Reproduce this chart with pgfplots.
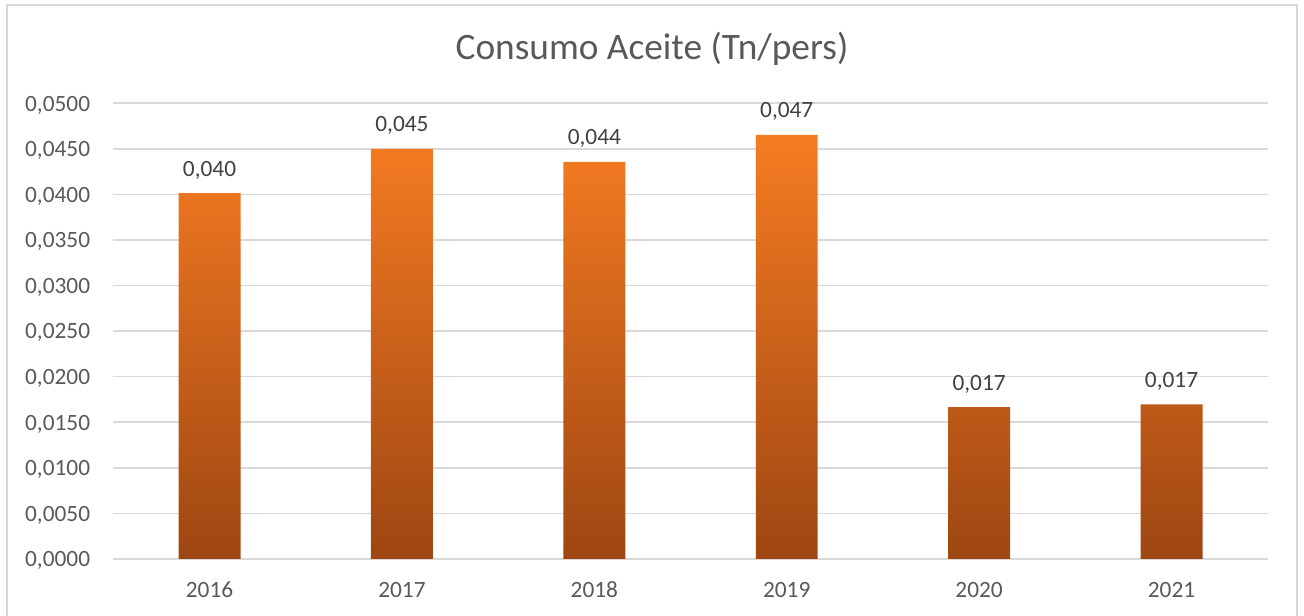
\documentclass[border=0pt]{standalone}
\usepackage{pgfplots}
\pgfplotsset{compat=1.18}
\usepackage{fontspec}
\setmainfont{Carlito}
\definecolor{gridc}{HTML}{D9D9D9}
\definecolor{tickc}{HTML}{595959}
\definecolor{labc}{HTML}{404040}
\definecolor{barTop}{HTML}{F67C22}
\definecolor{barBot}{HTML}{9E4612}
\begin{document}
\begin{tikzpicture}
\useasboundingbox (0,0) rectangle (978pt,462pt);
\draw[gridc, line width=1.2pt] (5.25pt,-2pt) -- (5.25pt,458.25pt) -- (972.75pt,458.25pt) -- (972.75pt,-2pt);
\node[anchor=base, inner sep=0pt, font=\fontsize{28}{32}\selectfont, text=tickc] at (489pt,417pt) {Consumo Aceite (Tn/pers)};
\begin{axis}[
  at={(85pt,42.75pt)}, anchor=south west,
  scale only axis, width=865.8pt, height=341.8pt,
  xmin=-0.5, xmax=5.5, ymin=0, ymax=0.05,
  xtick={0,1,2,3,4,5},
  xticklabels={2016,2017,2018,2019,2020,2021},
  ytick={0,0.005,0.01,0.015,0.02,0.025,0.03,0.035,0.04,0.045,0.05},
  scaled y ticks=false,
  yticklabel={\pgfmathprintnumber[fixed,fixed zerofill,precision=4,use comma]{\tick}},
  /pgf/number format/assume math mode=true,
  ymajorgrids, grid style={gridc, line width=1.2pt},
  axis line style={draw=none},
  major tick length=0pt,
  tick label style={font=\fontsize{17.5}{20}\selectfont, text=tickc, inner sep=0pt},
  yticklabel style={anchor=base east, xshift=-17.25pt, yshift=-5.9pt},
  xticklabel style={anchor=base, yshift=-29.25pt},
  ybar, bar width=0.322,
  nodes near coords,
  nodes near coords style={font=\fontsize{17.5}{20}\selectfont, text=labc, inner sep=0pt, anchor=base, yshift=12.75pt,
    /pgf/number format/.cd, fixed, fixed zerofill, precision=3, use comma, assume math mode=true},
  clip=false,
]
\addplot[draw=none, top color=barTop, bottom color=barBot] coordinates {
  (0,0.04015) (1,0.04500) (2,0.04358) (3,0.04653) (4,0.01666) (5,0.01696)
};
\end{axis}
\end{tikzpicture}
\end{document}
